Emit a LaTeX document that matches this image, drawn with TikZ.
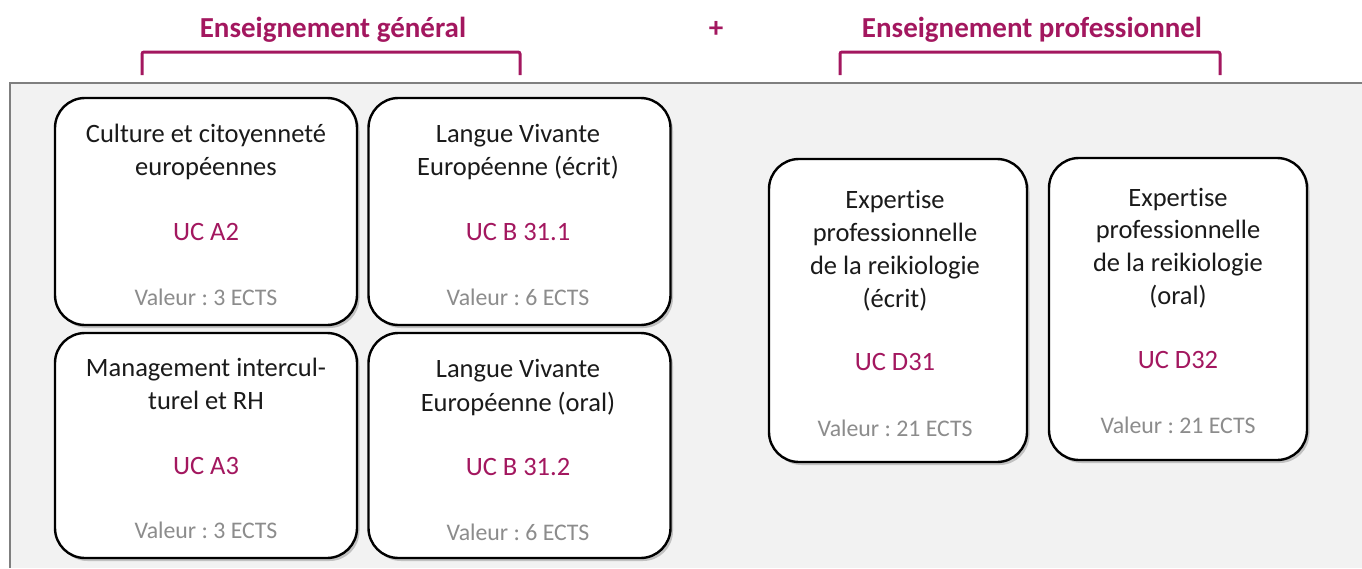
\documentclass[tikz,border=0pt]{standalone}
\usepackage{fontspec}
\setmainfont[Ligatures={NoCommon}]{Carlito}
\frenchspacing
\usetikzlibrary{shadows}
\definecolor{ucpurple}{HTML}{A3175F}
\definecolor{panelfill}{HTML}{F2F2F2}
\definecolor{panelline}{HTML}{7F7F7F}
\definecolor{valgray}{HTML}{8C8C8C}
\definecolor{txtdark}{HTML}{1A1A1A}
\tikzset{
  ucbox/.style={draw=black, line width=2.4pt, fill=white, rounded corners=30pt,
    drop shadow={shadow xshift=2.5pt, shadow yshift=-3pt, opacity=0.35, fill=black!60},
    inner sep=0pt},
  lbl/.style={font=\fontsize{26.5}{30}\selectfont, text=txtdark, anchor=base, inner sep=0pt},
  uc/.style={font=\fontsize{26.5}{30}\selectfont, text=ucpurple, anchor=base, inner sep=0pt},
  val/.style={font=\fontsize{23.8}{28}\selectfont, text=valgray, anchor=base, inner sep=0pt},
  head/.style={font=\fontsize{29}{33}\selectfont\bfseries, text=ucpurple, anchor=base, inner sep=0pt},
  bracket/.style={draw=ucpurple, line width=3pt, rounded corners=2pt}
}
\begin{document}
\begin{tikzpicture}[x=1pt,y=-1pt]
\useasboundingbox (0,0) rectangle (1362,568);
% panel
\fill[panelfill] (10,83) rectangle (1362,568);
\draw[panelline, line width=1.5pt] (1362,83) -- (10,83) -- (10,568);
% headings
\node[head] (hg) at (333,37) {Enseignement général};
\node[head] (plus) at (716,37) {+};
\node[head] (hp) at (1032,37) {Enseignement professionnel};
\draw[bracket] (142,75) -- (142,52) -- (520,52) -- (520,75);
\draw[bracket] (840,75) -- (840,52) -- (1220,52) -- (1220,75);
% boxes
\node[ucbox, minimum width=302pt, minimum height=227pt] (b1) at (206,211.5) {};
\node[ucbox, minimum width=302pt, minimum height=227pt] (b2) at (519.5,211.5) {};
\node[ucbox, minimum width=302pt, minimum height=225pt] (b3) at (206,445.5) {};
\node[ucbox, minimum width=302pt, minimum height=225pt] (b4) at (519.5,445.5) {};
\node[ucbox, minimum width=258pt, minimum height=303pt] (b5) at (898,310.5) {};
\node[ucbox, minimum width=258pt, minimum height=302pt] (b6) at (1178,309) {};
% box 1
\node[lbl] (b1a) at (206,142) {Culture et citoyenneté};
\node[lbl] (b1b) at (206,175) {européennes};
\node[uc]  (b1c) at (206,240) {UC A2};
\node[val] (b1d) at (206,305) {Valeur : 3 ECTS};
% box 2
\node[lbl] (b2a) at (518,142) {Langue Vivante};
\node[lbl] (b2b) at (518,175) {Européenne (écrit)};
\node[uc]  (b2c) at (518,240) {UC B 31.1};
\node[val] (b2d) at (518,305) {Valeur : 6 ECTS};
% box 3
\node[lbl] (b3a) at (206,376) {Management intercul-};
\node[lbl] (b3b) at (206,409) {turel et RH};
\node[uc]  (b3c) at (206,474) {UC A3};
\node[val] (b3d) at (206,538) {Valeur : 3 ECTS};
% box 4
\node[lbl] (b4a) at (518,377) {Langue Vivante};
\node[lbl] (b4b) at (518,411) {Européenne (oral)};
\node[uc]  (b4c) at (518,475) {UC B 31.2};
\node[val] (b4d) at (518,540) {Valeur : 6 ECTS};
% box 5
\node[lbl] (b5a) at (895,208) {Expertise};
\node[lbl] (b5b) at (895,241) {professionnelle};
\node[lbl] (b5c) at (895,274) {de la reikiologie};
\node[lbl] (b5d) at (895,307) {(écrit)};
\node[uc]  (b5e) at (895,370) {UC D31};
\node[val] (b5f) at (895,436) {Valeur : 21 ECTS};
% box 6
\node[lbl] (b6a) at (1178,206) {Expertise};
\node[lbl] (b6b) at (1178,238) {professionnelle};
\node[lbl] (b6c) at (1178,271) {de la reikiologie};
\node[lbl] (b6d) at (1178,304) {(oral)};
\node[uc]  (b6e) at (1178,368) {UC D32};
\node[val] (b6f) at (1178,433) {Valeur : 21 ECTS};
\end{tikzpicture}
\end{document}
